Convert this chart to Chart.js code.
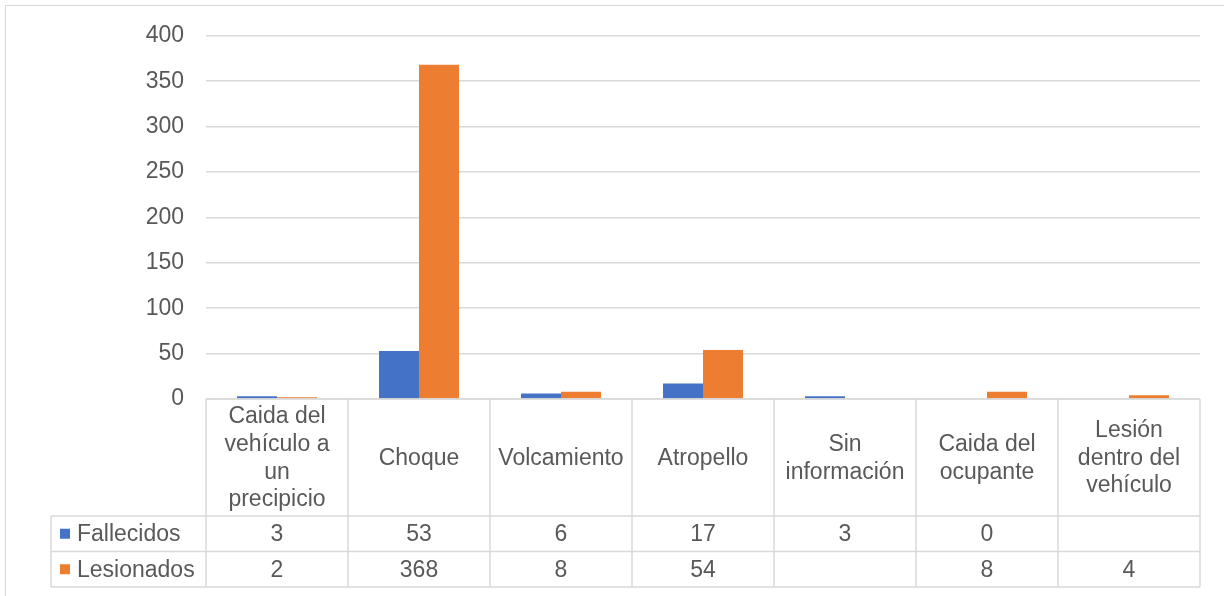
<!DOCTYPE html>
<html>
<head>
<meta charset="utf-8">
<script src="https://cdn.jsdelivr.net/npm/chart.js@4"></script>
<style>
  html, body { margin: 0; padding: 0; background: #fff; overflow: hidden; }
  #wrap { position: relative; width: 1224px; height: 596px; overflow: hidden; }
  #frame { position: absolute; left: 5px; top: 5px; width: 1240px; height: 640px; border: 1.5px solid #d9d9d9; box-sizing: border-box; }
  canvas { position: absolute; left: 0; top: 0; }
</style>
</head>
<body>
<div id="wrap">
  <div id="frame"></div>
  <canvas id="myChart" width="1224" height="596"></canvas>
</div>
<script>
const categories = [
  ['Caida del', 'vehículo a', 'un', 'precipicio'],
  ['Choque'],
  ['Volcamiento'],
  ['Atropello'],
  ['Sin', 'información'],
  ['Caida del', 'ocupante'],
  ['Lesión', 'dentro del', 'vehículo']
];
const fallecidos = [3, 53, 6, 17, 3, 0, null];
const lesionados = [2, 368, 8, 54, null, 8, 4];
const seriesNames = ['Fallecidos', 'Lesionados'];
const seriesColors = ['#4472c4', '#ed7d31'];

const textColor = '#595959';
const lineColor = '#d9d9d9';
const fontFamily = '"Liberation Sans", Arial, sans-serif';
const fontSize = 23;

// data table under the plot, drawn from the x scale positions
const dataTable = {
  id: 'dataTable',
  afterDraw(chart) {
    const ctx = chart.ctx;
    const x = chart.scales.x;
    const area = chart.chartArea;
    const top = area.bottom;
    const headBottom = 516;
    const rowH = 35.5;
    const legendLeft = 51;
    const step = x.getPixelForValue(1) - x.getPixelForValue(0);
    const left = x.getPixelForValue(0) - step / 2;
    const right = left + step * categories.length;

    ctx.save();
    ctx.strokeStyle = lineColor;
    ctx.lineWidth = 1.5;
    ctx.beginPath();
    // top border
    ctx.moveTo(left, top); ctx.lineTo(right, top);
    // row lines
    for (let r = 0; r <= 2; r++) {
      const y = headBottom + r * rowH;
      ctx.moveTo(legendLeft, y); ctx.lineTo(right, y);
    }
    // column lines
    for (let c = 0; c <= categories.length; c++) {
      const cx = left + c * step;
      ctx.moveTo(cx, top); ctx.lineTo(cx, headBottom + 2 * rowH);
    }
    ctx.moveTo(legendLeft, headBottom); ctx.lineTo(legendLeft, headBottom + 2 * rowH);
    ctx.stroke();

    ctx.fillStyle = textColor;
    ctx.font = fontSize + 'px ' + fontFamily;
    ctx.textAlign = 'center';
    ctx.textBaseline = 'middle';
    const lineH = 27.6;
    const headMid = (top + headBottom) / 2;
    categories.forEach((lines, i) => {
      const cx = x.getPixelForValue(i);
      lines.forEach((t, j) => {
        const y = headMid + (j - (lines.length - 1) / 2) * lineH;
        ctx.fillText(t, cx, y + 1);
      });
    });

    chart.data.datasets.forEach((ds, r) => {
      const y = headBottom + r * rowH + rowH / 2;
      ds.data.forEach((v, i) => {
        if (v === null) return;
        ctx.fillText(String(v), x.getPixelForValue(i), y + 1);
      });
      ctx.fillStyle = ds.backgroundColor;
      ctx.fillRect(60, y - 5, 10, 10);
      ctx.fillStyle = textColor;
      ctx.textAlign = 'left';
      ctx.fillText(ds.label, 77, y + 1);
      ctx.textAlign = 'center';
    });
    ctx.restore();
  }
};

const ctx = document.getElementById('myChart').getContext('2d');
const myChart = new Chart(ctx, {
  type: 'bar',
  data: {
    labels: categories,
    datasets: [
      { label: seriesNames[0], data: fallecidos, backgroundColor: seriesColors[0] },
      { label: seriesNames[1], data: lesionados, backgroundColor: seriesColors[1] }
    ]
  },
  options: {
    responsive: false,
    animation: false,
    devicePixelRatio: 1,
    categoryPercentage: 0.563,
    barPercentage: 1,
    layout: { padding: { left: 0, top: 34, right: 24, bottom: 197 } },
    plugins: {
      legend: { display: false },
      tooltip: { enabled: false }
    },
    scales: {
      x: { display: false },
      y: {
        min: 0,
        max: 400,
        afterFit(scale) { scale.width = 206; },
        ticks: {
          stepSize: 50,
          padding: 22,
          color: textColor,
          font: { family: fontFamily, size: fontSize }
        },
        grid: { color: lineColor, lineWidth: 1.5, drawTicks: false },
        border: { display: false }
      }
    }
  },
  plugins: [dataTable]
});
</script>
</body>
</html>
